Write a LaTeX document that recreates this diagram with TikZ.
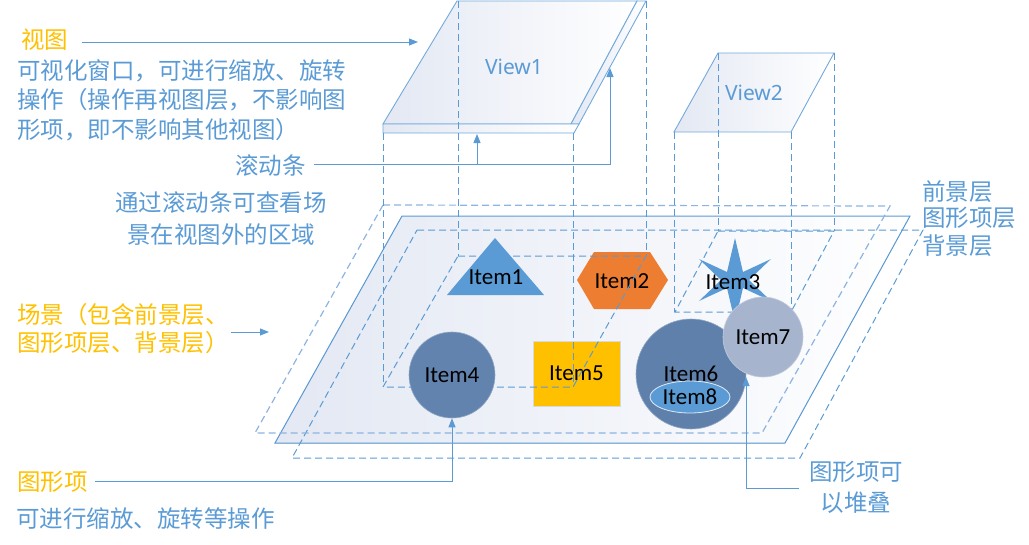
\documentclass[tikz,border=0pt]{standalone}
\usepackage{fontspec}
\newfontfamily\cjk{Noto Sans CJK SC}
\newfontfamily\lat{Carlito}
\newfontfamily\vfont{Noto Sans}
\usetikzlibrary{arrows.meta,shapes.geometric}
\definecolor{lblue}{HTML}{5B9BD5}
\definecolor{orng}{HTML}{FFC000}
\definecolor{item2c}{HTML}{ED7D31}
\definecolor{steel}{HTML}{6283AD}
\definecolor{steelB}{HTML}{5F80AB}
\definecolor{pale}{HTML}{A6B5CD}
\definecolor{facec}{HTML}{E3E8F3}
\definecolor{fgline}{HTML}{8DB4E0}
\begin{document}
\begin{tikzpicture}[x=1pt,y=-1pt,
  layerline/.style={draw=lblue,line width=1pt},
  dashline/.style={draw=lblue,line width=1pt,dash pattern=on 7pt off 4pt},
  fgdash/.style={draw=fgline,line width=1.2pt,dash pattern=on 7pt off 4pt},
  arr/.style={draw=lblue,line width=1pt,-{Triangle[length=9pt,width=7pt]}},
  plain/.style={draw=lblue,line width=1pt},
  cntxt/.style={font=\cjk\fontsize{23.5}{29.5}\selectfont,text=lblue,inner sep=0pt},
  ortxt/.style={font=\cjk\fontsize{23.5}{29.5}\selectfont,text=orng,inner sep=0pt},
  itemtxt/.style={font=\lat\fontsize{23}{26}\selectfont,text=black,inner sep=0pt},
  viewtxt/.style={font=\vfont\fontsize{21}{24}\selectfont,text=lblue,inner sep=0pt},
  face/.style={draw=lblue!85,line width=0.9pt,left color=facec,right color=white}
]
\useasboundingbox (0,0) rectangle (1029,544);

% ---------------- layers ----------------
\fill[left color=facec,right color=white] (402,216) -- (910,216) -- (785,443) -- (275,443) -- cycle;
\draw[dashline] (417,230) -- (923,230) -- (800,458) -- (292,458) -- cycle;
\draw[layerline] (402,216) -- (910,216) -- (785,443) -- (275,443) -- cycle;
\draw[fgdash] (383,205) -- (890,206) -- (762,433) -- (255,433) -- cycle;

% ---------------- items under projections ----------------
\fill[item2c] (577,280) -- (594,252) -- (650,252) -- (668,280) -- (650,309) -- (594,309) -- cycle;
\node[itemtxt] (item2) at (622,281) {Item2};
\node[rectangle,draw=black!15,fill=orng,minimum width=87pt,minimum height=65pt,itemtxt] (item5) at (576.5,373.5) {Item5};
\fill[lblue] (735,238) -- (743,272) -- (771,259) -- (749,280) -- (771,301) -- (743,288)
  -- (735,322) -- (727,288) -- (699,301) -- (721,280) -- (699,259) -- (727,272) -- cycle;
\node[itemtxt] (item3) at (733,282) {Item3};

% ---------------- views ----------------
\path[face] (457,1) -- (637,1) -- (571,124) -- (383,124) -- cycle;
\path[face] (637,1) -- (646,1) -- (579,124) -- (571,124) -- cycle;
\path[face] (383,124) -- (579,124) -- (574,133) -- (383,133) -- cycle;
\node[viewtxt] (view1) at (514,67) {View1};
\coordinate (bar1) at (477,134);
\coordinate (bar2) at (610,68);

\path[face] (718,53) -- (834,53) -- (791,132) -- (674,132) -- cycle;
\node[viewtxt] (view2) at (754,93) {View2};

% projections
\draw[dashline] (458,256) -- (646,256) -- (573,387) -- (383,387) -- cycle;
\draw[dashline] (383,133) -- (383,387);
\draw[dashline] (573,133) -- (573,387);
\draw[dashline] (458,1) -- (458,256);
\draw[dashline] (646,1) -- (646,256);

\draw[dashline] (718,231) -- (834,231) -- (791,312) -- (675,312) -- cycle;
\draw[dashline] (674,132) -- (674,312);
\draw[dashline] (791,132) -- (791,312);
\draw[dashline] (718,53) -- (718,231);
\draw[dashline] (834,53) -- (834,231);

% ---------------- items above ----------------
\fill[lblue] (495,238) -- (544,295) -- (447,295) -- cycle;
\node[itemtxt] (item1) at (496,277) {Item1};
\node[circle,draw=steel!70!white,line width=0.6pt,fill=steel,minimum size=86pt,itemtxt] (item4) at (452,375) {Item4};
\node[circle,draw=steelB!70!white,line width=0.6pt,fill=steelB,minimum size=110pt,itemtxt] (item6) at (691,374) {Item6};
\node[ellipse,draw=white!80!lblue,line width=0.8pt,fill=lblue,minimum width=80pt,minimum height=32pt,itemtxt] (item8) at (690,397) {Item8};
\node[circle,draw=pale!70!white,line width=0.6pt,fill=pale,minimum size=80pt,itemtxt] (item7) at (763,337) {Item7};

% ---------------- texts ----------------
\node[ortxt,anchor=west] (shitu) at (21,40) {视图};
\node[cntxt,anchor=west,align=left] (shitudesc) at (17,100) {可视化窗口，可进行缩放、旋转\\操作（操作再视图层，不影响图\\形项，即不影响其他视图）};
\node[cntxt,anchor=west] (gundong) at (235,166) {滚动条};
\node[cntxt,align=center,font=\cjk\fontsize{23.5}{32}\selectfont] (gddesc) at (221,219) {通过滚动条可查看场\\景在视图外的区域};
\node[ortxt,anchor=west,align=left,font=\cjk\fontsize{23.5}{28}\selectfont] (changjing) at (17,329) {场景（包含前景层、\\图形项层、背景层）};
\node[ortxt,anchor=west] (txitem) at (17,482) {图形项};
\node[cntxt,anchor=west] (txitemdesc) at (16,519) {可进行缩放、旋转等操作};
\node[cntxt,anchor=west] (fg) at (922,192) {前景层};
\node[cntxt,anchor=west] (mid) at (922,218) {图形项层};
\node[cntxt,anchor=west] (bg) at (922,246) {背景层};
\node[cntxt,align=center,font=\cjk\fontsize{23.5}{31}\selectfont] (stack) at (856,487.5) {图形项可\\以堆叠};

% ---------------- connectors ----------------
\draw[arr] (shitu.east) ++(14,2) -- (418,42);
\draw[arr] (gundong.east) ++(8,-2) -- (610,164) -- (bar2);
\draw[arr] (477,164) -- (bar1);
\draw[arr] (changjing.east) ++(2,3) -- (269,332);
\draw[arr] (txitem.east) ++(7,-1) -- (452,481) -- (item4.south);
\coordinate (stk) at (799,488);
\draw[arr] (stk) -- (746,488) -- (746,377);
\end{tikzpicture}
\end{document}
